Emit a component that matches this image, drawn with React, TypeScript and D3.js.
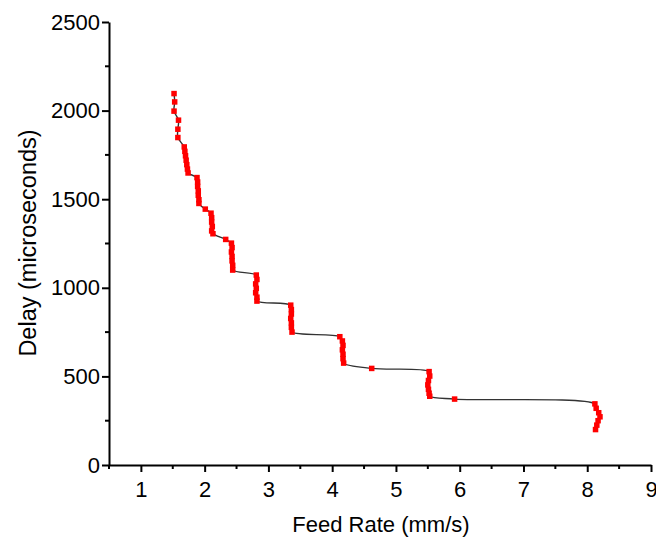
import React, { useRef, useEffect } from "react";
import * as d3 from "d3";

// feed rate (mm/s) and delay (microseconds)
const feedRate = [
  1.52, 1.53, 1.52, 1.59, 1.58, 1.58,
  1.68, 1.69, 1.7, 1.71, 1.72, 1.73, 1.74,
  1.88, 1.89, 1.89, 1.9, 1.9, 1.91, 1.91,
  2.01,
  2.1, 2.11, 2.11, 2.12, 2.11, 2.13,
  2.33,
  2.42, 2.43, 2.42, 2.43, 2.43, 2.44, 2.44,
  2.81, 2.82, 2.8, 2.81, 2.8, 2.82, 2.82,
  3.35, 3.36, 3.36, 3.35, 3.36, 3.36, 3.37,
  4.12, 4.16, 4.17, 4.16, 4.17, 4.17, 4.18,
  4.62,
  5.52, 5.53, 5.51, 5.5, 5.51, 5.52, 5.53,
  5.92,
  8.12, 8.14, 8.18, 8.2, 8.17, 8.15, 8.13,
];
const delay = [
  2096, 2049, 1997, 1946, 1895, 1848,
  1795, 1770, 1745, 1720, 1695, 1670, 1648,
  1622, 1597, 1572, 1547, 1522, 1497, 1476,
  1444,
  1421, 1396, 1371, 1346, 1321, 1305,
  1273,
  1252, 1227, 1202, 1177, 1152, 1127, 1100,
  1072, 1047, 1022, 997, 972, 947, 925,
  902, 877, 852, 827, 802, 777, 750,
  724, 700, 675, 650, 625, 600, 575,
  545,
  527, 502, 477, 452, 427, 405, 388,
  372,
  345, 320, 295, 272, 250, 225, 200,
];
const xTicks = [1, 2, 3, 4, 5, 6, 7, 8, 9];
const xMinorTicks = [0.5, 1.5, 2.5, 3.5, 4.5, 5.5, 6.5, 7.5, 8.5];
const yTicks = [0, 500, 1000, 1500, 2000, 2500];
const yMinorTicks = [250, 750, 1250, 1750, 2250];

const App = () => {
  const chartRef = useRef<SVGSVGElement>(null);

  useEffect(() => {
    const data = feedRate.map((f, i) => ({ x: f, y: delay[i] }));
    const width = 656;
    const height = 538;
    const font = "Liberation Sans, Arial, sans-serif";

    const svg = d3.select(chartRef.current);
    svg.selectAll("*").remove();

    const xScale = d3.scaleLinear().domain([0.5, 9]).range([109, 651]);
    const yScale = d3.scaleLinear().domain([0, 2500]).range([465, 22]);

    // fitted curve
    const line = d3
      .line<{ x: number; y: number }>()
      .x((d) => xScale(d.x))
      .y((d) => yScale(d.y))
      .curve(d3.curveCatmullRom.alpha(0.5));

    svg
      .append("path")
      .datum(data)
      .attr("d", line)
      .attr("fill", "none")
      .attr("stroke", "#333")
      .attr("stroke-width", 1.4);

    // markers
    svg
      .selectAll("rect.pt")
      .data(data)
      .enter()
      .append("rect")
      .attr("class", "pt")
      .attr("x", (d) => xScale(d.x) - 2.75)
      .attr("y", (d) => yScale(d.y) - 2.75)
      .attr("width", 5.5)
      .attr("height", 5.5)
      .attr("fill", "#ff0000");

    // x axis
    const xAxis = svg.append("g").attr("transform", `translate(0,${yScale(0)})`);
    xAxis
      .call(d3.axisBottom(xScale).tickValues(xTicks).tickSize(7).tickSizeOuter(0).tickFormat(d3.format("d")))
      .call((g) => g.select(".domain").attr("stroke-width", 2));
    xAxis.selectAll(".tick line").attr("stroke-width", 2);
    xAxis
      .selectAll(".tick text")
      .attr("font-family", font)
      .attr("font-size", 22)
      .attr("fill", "#000")
      .attr("dy", "1.0em");
    xAxis
      .selectAll("line.minor")
      .data(xMinorTicks)
      .enter()
      .append("line")
      .attr("class", "minor")
      .attr("x1", (d) => xScale(d))
      .attr("x2", (d) => xScale(d))
      .attr("y1", 0)
      .attr("y2", 4)
      .attr("stroke", "#000")
      .attr("stroke-width", 2);

    // y axis
    const yAxis = svg.append("g").attr("transform", `translate(${xScale(0.5)},0)`);
    yAxis
      .call(d3.axisLeft(yScale).tickValues(yTicks).tickSize(7).tickSizeOuter(0).tickFormat(d3.format("d")))
      .call((g) => g.select(".domain").attr("stroke-width", 2));
    yAxis.selectAll(".tick line").attr("stroke-width", 2);
    yAxis
      .selectAll(".tick text")
      .attr("font-family", font)
      .attr("font-size", 22)
      .attr("fill", "#000")
      .attr("x", -9);
    yAxis
      .selectAll("line.minor")
      .data(yMinorTicks)
      .enter()
      .append("line")
      .attr("class", "minor")
      .attr("y1", (d) => yScale(d))
      .attr("y2", (d) => yScale(d))
      .attr("x1", 0)
      .attr("x2", -4)
      .attr("stroke", "#000")
      .attr("stroke-width", 2);

    // axis titles
    svg
      .append("text")
      .attr("x", 381)
      .attr("y", 532)
      .attr("text-anchor", "middle")
      .attr("font-family", font)
      .attr("font-size", 22)
      .text("Feed Rate (mm/s)");

    svg
      .append("text")
      .attr("transform", `translate(36,${243}) rotate(-90)`)
      .attr("text-anchor", "middle")
      .attr("font-family", font)
      .attr("font-size", 23.5)
      .text("Delay (microseconds)");

    svg.attr("width", width).attr("height", height);
  }, []);

  return (
    <svg
      ref={chartRef}
      width={656}
      height={538}
      style={{ position: "absolute", left: 0, top: 0, background: "#fff" }}
    />
  );
};

export default App;
